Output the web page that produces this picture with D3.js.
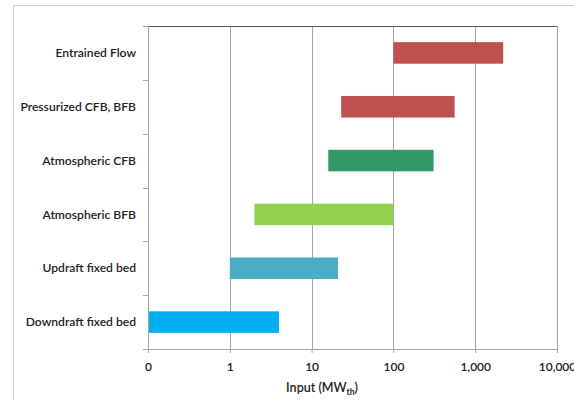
<!DOCTYPE html>
<html>
<head>
<meta charset="utf-8">
<script src="https://cdn.jsdelivr.net/npm/d3@7"></script>
<style>
  body { margin: 0; background: #fff; }
  text { font-family: Lato, "Open Sans", sans-serif; }
</style>
</head>
<body>
<script>
var categories = ["Entrained Flow", "Pressurized CFB, BFB", "Atmospheric CFB",
                  "Atmospheric BFB", "Updraft fixed bed", "Downdraft fixed bed"];
var rangeMin = [100, 23, 16, 2, 1, 0.1];
var rangeMax = [2200, 560, 310, 100, 21, 4];
var colors = ["#c0504d", "#c0504d", "#339966", "#92d050", "#4bacc6", "#00b0f0"];
var tickValues = [0.1, 1, 10, 100, 1000, 10000];
var tickLabels = ["0", "1", "10", "100", "1,000", "10,000"];

var w = 574, h = 400;
var margin = {left: 148, top: 26, right: 17, bottom: 51};
var iw = w - margin.left - margin.right, ih = h - margin.top - margin.bottom;

var svg = d3.select("body").append("svg").attr("width", w).attr("height", h);

// outer frame
svg.append("rect")
    .attr("x", 13.5).attr("y", 5.5)
    .attr("width", 580).attr("height", 420)
    .attr("fill", "none").attr("stroke", "#d0d0d0");

var g = svg.append("g").attr("transform", "translate(" + margin.left + "," + margin.top + ")");

var x = d3.scaleLog().domain([0.1, 10000]).range([0, iw]);
var y = d3.scaleBand().domain(categories).range([0, ih]).paddingInner(0.6).paddingOuter(0.3);

// gridlines
g.selectAll(".grid")
    .data(tickValues.slice(1))
    .enter().append("line")
    .attr("x1", d => Math.round(x(d)) + 0.5).attr("x2", d => Math.round(x(d)) + 0.5)
    .attr("y1", 0).attr("y2", ih)
    .attr("stroke", "#a6a6a6");

// top border
g.append("line").attr("x1", 0).attr("x2", iw).attr("y1", 0.5).attr("y2", 0.5)
    .attr("stroke", "#595959");

// bars
g.selectAll(".bar")
    .data(categories)
    .enter().append("rect")
    .attr("x", (d, i) => x(rangeMin[i]))
    .attr("width", (d, i) => x(rangeMax[i]) - x(rangeMin[i]))
    .attr("y", d => y(d))
    .attr("height", y.bandwidth())
    .attr("fill", (d, i) => colors[i]);

// x axis
var xAxis = d3.axisBottom(x).tickValues(tickValues)
    .tickFormat((d, i) => tickLabels[i]).tickSize(4);
var xa = g.append("g").attr("transform", "translate(0," + ih + ")").call(xAxis);
xa.select(".domain").attr("stroke", "#a6a6a6");
xa.selectAll(".tick line").attr("stroke", "#a6a6a6");
xa.selectAll("text").attr("dy", "1.25em").style("font-size", "12px")
    .style("font-weight", "600").attr("fill", "#222");

// y axis with ticks at category boundaries
var step = ih / categories.length;
var ya = g.append("g");
ya.append("line").attr("x1", 0.5).attr("x2", 0.5).attr("y1", 0).attr("y2", ih)
    .attr("stroke", "#a6a6a6");
ya.selectAll(".yt")
    .data(d3.range(categories.length + 1))
    .enter().append("line")
    .attr("x1", -5).attr("x2", 0)
    .attr("y1", d => Math.round(d * step) + 0.5).attr("y2", d => Math.round(d * step) + 0.5)
    .attr("stroke", "#a6a6a6");
ya.selectAll(".ylab")
    .data(categories)
    .enter().append("text")
    .attr("x", -12)
    .attr("y", d => y(d) + y.bandwidth() / 2)
    .attr("dy", "0.35em")
    .attr("text-anchor", "end")
    .style("font-size", "12.1px")
    .style("font-weight", "600")
    .attr("fill", "#222")
    .text(d => d);

// x axis title
var title = svg.append("text")
    .attr("x", 322)
    .attr("y", 392)
    .attr("text-anchor", "middle")
    .style("font-size", "12.5px")
    .style("font-weight", "600")
    .attr("fill", "#222");
title.append("tspan").text("Input (MW");
title.append("tspan").text("th").attr("dy", 3).style("font-size", "8.5px").style("font-weight", "700");
title.append("tspan").text(")").attr("dy", -3);
</script>
</body>
</html>
